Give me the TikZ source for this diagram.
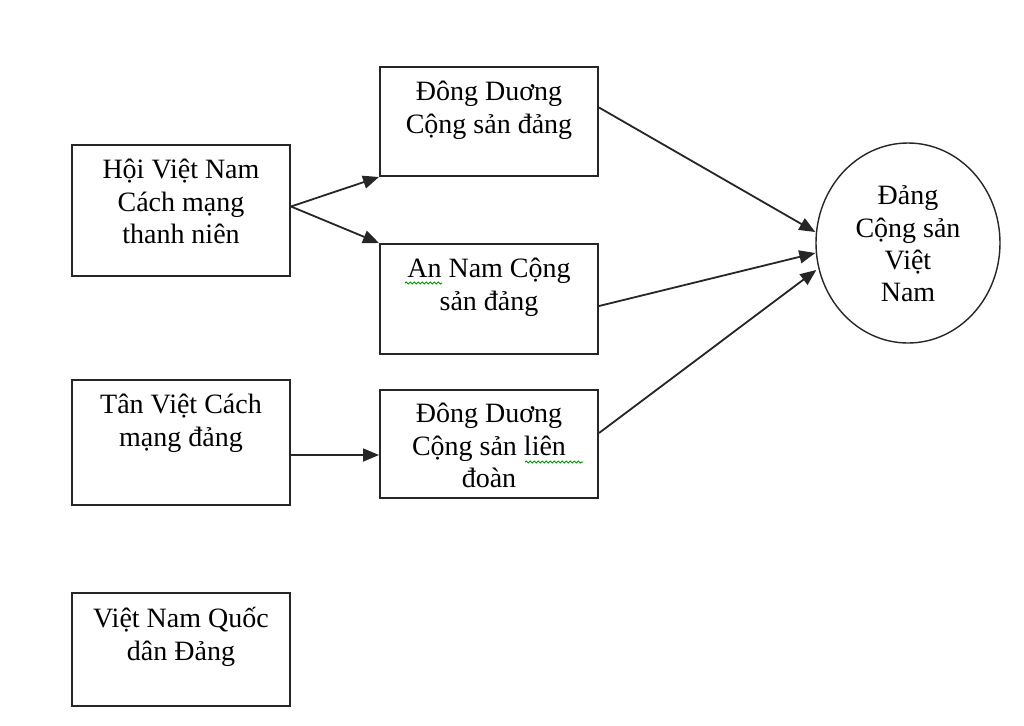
\documentclass[tikz,border=0pt]{standalone}
\usepackage{fontspec}
\setmainfont{Liberation Serif}
\usetikzlibrary{arrows.meta,shapes.geometric,decorations.pathmorphing}
\begin{document}
\begin{tikzpicture}[x=0.5pt,y=-0.5pt,
  box/.style={draw=black!85,line width=1pt,rectangle,minimum width=109pt,inner sep=0pt},
  txt/.style={anchor=north,align=center,inner sep=0pt,font=\fontsize{14}{16.2}\selectfont},
  oval/.style={draw=black!85,line width=0.7pt,ellipse,minimum width=92pt,minimum height=100pt,inner sep=0pt},
  conn/.style={draw=black!85,line width=0.9pt,-{Triangle[length=8pt,width=6.5pt]}},
  wavy/.style={draw=green!60!black,line width=0.5pt,decorate,decoration={snake,segment length=2pt,amplitude=0.5pt}}]
\useasboundingbox (0,0) rectangle (1024,725);
\fill[white] (0,0) rectangle (1024,725);
% boxes
\node[box,minimum height=65.5pt] (a) at (181,210.5) {};
\node[box,minimum height=54.5pt] (b) at (489,121.5) {};
\node[box,minimum height=55pt] (c) at (489,299) {};
\node[box,minimum height=62.5pt] (d) at (181,442.5) {};
\node[box,minimum height=54pt] (e) at (489,444) {};
\node[box,minimum height=56.5pt] (f) at (181,649.5) {};
\node[oval] (g) at (908,243) {};
% texts
\node[txt] (ta) at ([yshift=-7.5pt]a.north) {Hội Việt Nam\\Cách mạng\\thanh niên};
\node[txt] (tb) at ([yshift=-7.5pt]b.north) {Đông Duơng\\Cộng sản đảng};
\node[txt] (tc) at ([yshift=-7.5pt]c.north) {An Nam Cộng\\sản đảng};
\node[txt] (td) at ([yshift=-7.5pt]d.north) {Tân Việt Cách\\mạng đảng};
\node[txt] (te) at ([yshift=-7pt]e.north) {Đông Duơng\\Cộng sản liên\\đoàn};
\node[txt] (tf) at ([yshift=-7.5pt]f.north) {Việt Nam Quốc\\dân Đảng};
\node[txt,anchor=center] (tg) at (908,244) {Đảng\\Cộng sản\\Việt\\Nam};
% connectors
\coordinate (as) at ([yshift=2pt]a.east);
\draw[conn] (as) -- (b.south west);
\draw[conn] (as) -- (c.north west);
\draw[conn] ([yshift=7pt]b.east) -- ([yshift=5.5pt]g.west);
\draw[conn] ([yshift=-3.5pt]c.east) -- ([yshift=-5pt]g.west);
\draw[conn] ([yshift=5.5pt]e.east) -- ([yshift=-13.5pt,xshift=0.5pt]g.west);
\draw[conn] ([yshift=-6.25pt]d.east) -- ([yshift=-5.5pt]e.west);
% spell-check marks
\draw[wavy] (405,283) -- (442,283);
\draw[wavy] (525,462) -- (583,462);
\end{tikzpicture}
\end{document}
